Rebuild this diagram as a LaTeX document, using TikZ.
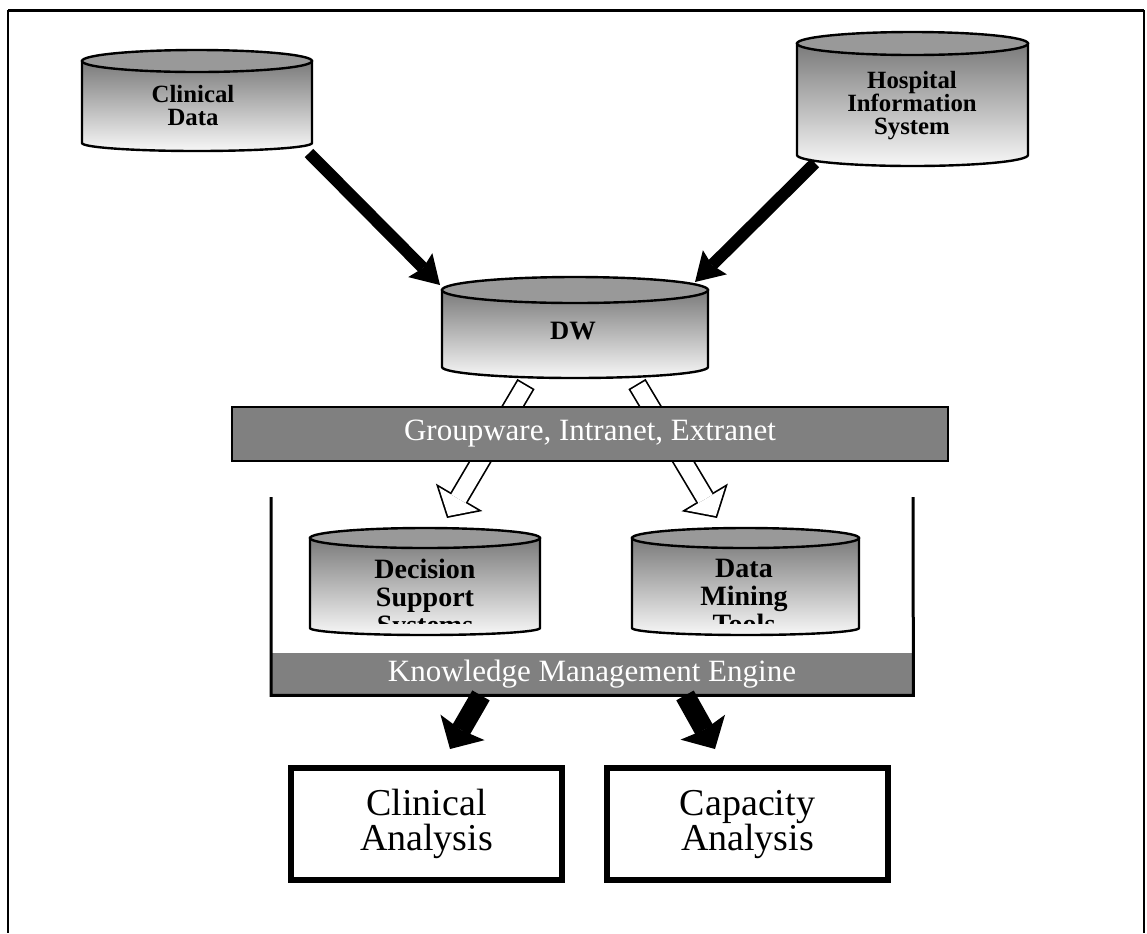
\documentclass[tikz,border=0pt]{standalone}
\usepackage{fontspec}
\setmainfont{Liberation Serif}
\usetikzlibrary{arrows.meta}
\tikzset{
  cylbody/.style={draw, line width=1.2pt, top color=black!52, bottom color=black!3},
  cyltop/.style={draw, line width=1.2pt, fill=black!40},
  dbtext/.style={align=center, inner sep=0pt, anchor=north, font=\bfseries\fontsize{12.4}{11.5}\selectfont},
  bigdb/.style={font=\bfseries\fontsize{14}{14}\selectfont},
  band/.style={fill=black!50, text=white, inner sep=0pt, font=\fontsize{15.5}{18}\selectfont},
  report/.style={draw, line width=3pt, inner sep=0pt},
  reptext/.style={align=center, inner sep=0pt, anchor=north, font=\fontsize{19}{17.5}\selectfont},
  feed/.style={line width=6pt, -{Stealth[length=14pt, width=17pt, inset=2pt, line width=0pt]}},
  yield/.style={line width=10pt, -{Stealth[length=12.5pt, width=25.5pt, inset=1.5pt, line width=0pt]}},
  pipe/.style={line width=10pt, -{Triangle[length=12pt, width=27pt, line width=0pt]}},
  pipein/.style={white, line width=8.3pt, shorten <=0.85pt, shorten >=1.15pt, -{Triangle[length=10pt, width=22.5pt, line width=0pt]}},
}
\newcommand{\dbcyl}[7]{%
  \path[cylbody] (#2-#5,#3) -- (#2-#5,#4) arc[start angle=180, end angle=0, x radius=#5, y radius=#7] -- (#2+#5,#3) -- cycle;
  \draw[cyltop] (#2,#3) ellipse[x radius=#5, y radius=#6];
  \coordinate (#1-nw) at (#2-#5,#3);
  \coordinate (#1-ne) at (#2+#5,#3);
  \coordinate (#1-sw) at (#2-#5,#4);
  \coordinate (#1-se) at (#2+#5,#4);
  \coordinate (#1-n) at (#2,#3-#6);
  \coordinate (#1-s) at (#2,#4+#7);
}

\begin{document}
\begin{tikzpicture}[x=0.5pt, y=-0.5pt]
  \useasboundingbox (0,0) rectangle (1147,933);
  \draw[line width=1.75pt] (8,10.5) -- (1144,10.5);
  \draw[line width=1pt] (8,10) -- (8,933) (1144,10) -- (1144,933);

  \dbcyl{cd}{197}{61}{143}{115}{11}{8}
  \dbcyl{his}{912.5}{43.5}{155}{115.5}{11.5}{11}
  \dbcyl{dw}{575}{290}{367}{133}{13}{11}
  \dbcyl{dss}{425}{538}{628}{115}{10}{7}
  \dbcyl{dmt}{745.5}{538}{628}{113.5}{10}{7}
  \node[dbtext] (cdl) at (193,85) {Clinical\\Data};
  \node[dbtext] (hisl) at (912,71) {Hospital\\Information\\System};
  \node[dbtext, anchor=center, font=\bfseries\fontsize{13.25}{13}\selectfont] (dwl) at (573,331) {DW};
  \begin{scope}
    \clip (300,520) rectangle (870,623);
    \node[dbtext, bigdb] (dssl) at (425,559) {Decision\\Support\\Systems};
    \node[dbtext, bigdb] (dmtl) at (744,559) {Data\\Mining\\Tools};
  \end{scope}

  \draw[feed] ([shift={(-3,10)}]cd-se) -- ([shift={(-2,-5)}]dw-nw);
  \draw[feed] ([shift={(18,8)}]his-sw) -- ([shift={(-13,-8)}]dw-ne);

  \draw[pipe] ([shift={(-49,6)}]dw-s) -- ([shift={(22,-10)}]dss-n);
  \draw[pipein] ([shift={(-49,6)}]dw-s) -- ([shift={(22,-10)}]dss-n);
  \draw[pipe] ([shift={(62,6)}]dw-s) -- ([shift={(-28.5,-10)}]dmt-n);
  \draw[pipein] ([shift={(62,6)}]dw-s) -- ([shift={(-28.5,-10)}]dmt-n);

  \node[band, draw, line width=1pt, minimum width=358pt, minimum height=27pt] (gw) at (590,434) {Groupware, Intranet, Extranet};
  \node[band, minimum width=321pt, minimum height=21pt] (kme) at (592,674) {Knowledge Management Engine};
  \draw[line width=1.5pt] (271,497) |- (kme.south east) -- (913,497);

  \node[report, minimum width=135.5pt, minimum height=56pt] (ca) at (426.5,824) {};
  \node[reptext] (cal) at (426.5,789) {Clinical\\Analysis};
  \node[report, minimum width=140.5pt, minimum height=56pt] (cpa) at (747.5,824) {};
  \node[reptext] (cpal) at (747.5,790) {Capacity\\Analysis};

  \draw[yield] ([shift={(-111,0)}]kme.south) -- ([shift={(23.5,-16)}]ca.north);
  \draw[yield] ([shift={(93,0)}]kme.south) -- ([shift={(-32.5,-16)}]cpa.north);
\end{tikzpicture}
\end{document}
